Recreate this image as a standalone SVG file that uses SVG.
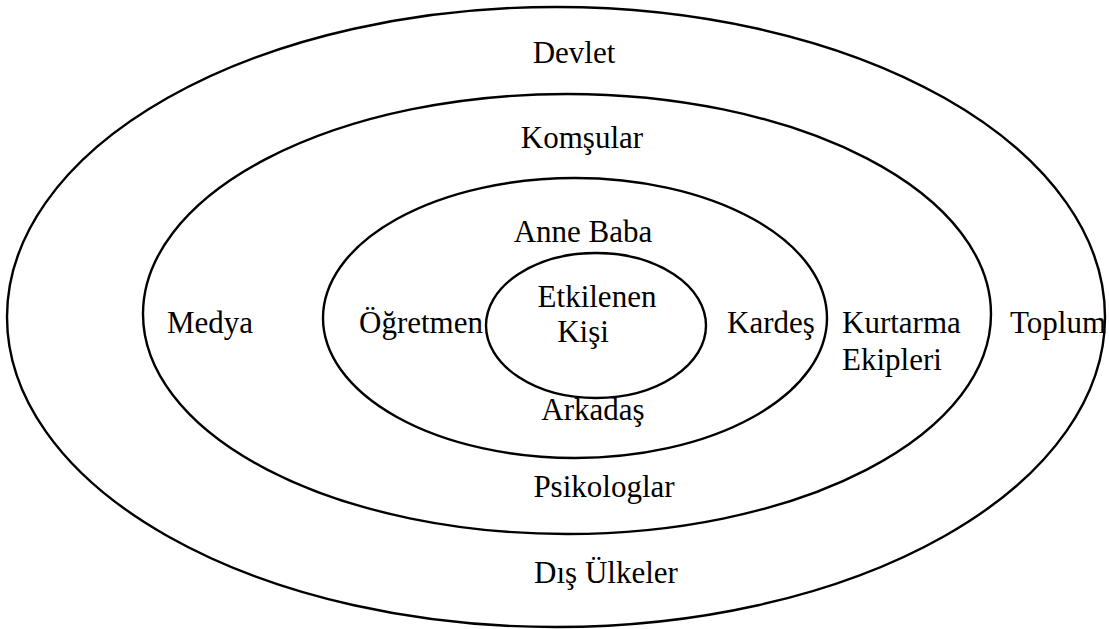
<svg xmlns="http://www.w3.org/2000/svg" width="1109" height="629" viewBox="0 0 1109 629">
<style>
.ring{fill:none;stroke:#000;stroke-width:2.4}
text{font-family:"Liberation Serif","Times New Roman",serif;font-size:31px;fill:#000}
.c{text-anchor:middle}
</style>
<rect width="1109" height="629" fill="#fff"/>
<g id="ring-outer">
<ellipse class="ring" cx="556" cy="317" rx="549" ry="310"/>
<text class="c" x="574" y="63">Devlet</text>
<text x="1010" y="333">Toplum</text>
<text class="c" x="606" y="583">Dış Ülkeler</text>
</g>
<g id="ring-second">
<ellipse class="ring" cx="567" cy="314" rx="424" ry="220"/>
<text class="c" x="582" y="148">Komşular</text>
<text class="c" x="210" y="333">Medya</text>
<text x="842" y="333">Kurtarma</text>
<text x="842" y="370">Ekipleri</text>
<text class="c" x="604" y="497">Psikologlar</text>
</g>
<g id="ring-third">
<ellipse class="ring" cx="575" cy="318" rx="252" ry="140"/>
<text class="c" x="583" y="242">Anne Baba</text>
<text class="c" x="421" y="333">Öğretmen</text>
<text class="c" x="771" y="333">Kardeş</text>
<text class="c" x="593" y="420">Arkadaş</text>
</g>
<g id="center">
<ellipse class="ring" cx="596" cy="325.5" rx="110" ry="72.5"/>
<text class="c" x="597" y="307">Etkilenen</text>
<text class="c" x="583" y="342">Kişi</text>
</g>
<g id="connectors"></g>
</svg>
